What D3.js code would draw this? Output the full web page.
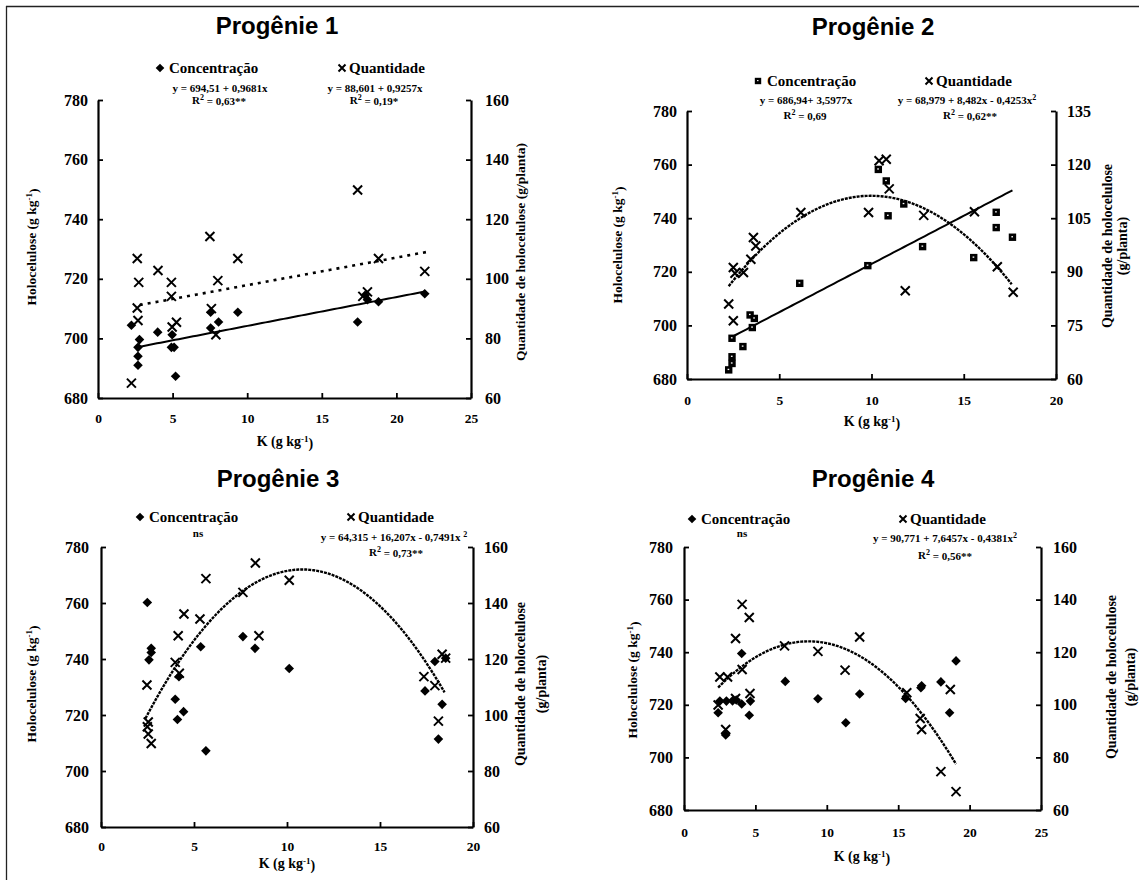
<!DOCTYPE html>
<html><head><meta charset="utf-8">
<script src="https://cdn.jsdelivr.net/npm/d3@7"></script>
<style>
body{margin:0;background:#fff}
svg{display:block}
</style></head>
<body><svg id="c" width="1139" height="880" style="font-family:'Liberation Serif','Times New Roman','DejaVu Serif',serif;font-weight:bold"></svg>
<script>
// ---------------- DATA ----------------
const xTicks25 = [0,5,10,15,20,25];
const xTicks20 = [0,5,10,15,20];
const yLeftTicks = [680,700,720,740,760,780];
const yRightTicks160 = [60,80,100,120,140,160];
const yRightTicks135 = [60,75,90,105,120,135];

// Progênie 1
const p1ConcK = [2.24,2.68,2.78,2.68,2.68,4.0,4.97,4.92,5.1,5.2,7.55,7.55,8.08,9.37,17.4,17.9,18.06,18.8,21.9];
const p1ConcY = [704.4,697,699.6,694,691,702.1,701.2,697,697,687.3,703.5,708.8,705.5,708.8,705.5,714.5,713,712.3,715];
const p1QtyK  = [2.24,2.63,2.73,2.63,2.68,4.02,4.92,4.92,4.97,5.26,7.5,7.6,8.03,7.9,9.37,17.4,18.06,17.75,18.8,21.9];
const p1QtyY  = [65,106.8,98.8,90.2,86,102.8,98.8,94.1,83.8,85.4,114.2,90,99.4,81.2,106.8,129.8,95.6,94.1,106.8,102.5];
const p1ConcFit = [694.51,0.9681,0], p1ConcFitRange = [2.5,21.9];
const p1QtyFit  = [88.601,0.9257,0], p1QtyFitRange  = [2.8,22];

// Progênie 2
const p2ConcK = [2.26,2.44,2.44,2.44,3.03,3.42,3.65,3.54,6.11,9.8,10.37,10.8,10.9,11.75,12.77,15.54,16.76,16.76,17.64];
const p2ConcY = [683.4,688.3,685.8,695.2,692.1,703.9,702.6,699.2,715.7,722.3,758.2,753.9,740.9,745.3,729.4,725.3,742.2,736.5,732.9];
const p2QtyK  = [2.26,2.51,2.51,2.6,3.06,3.46,3.6,3.73,6.17,9.84,10.41,10.8,10.96,11.83,12.83,15.58,16.82,17.68];
const p2QtyY  = [81,76.3,91.2,89.6,89.8,93.5,99.6,97.2,106.6,106.6,121.1,121.5,113.2,84.7,105.8,106.8,91.4,84.3];
const p2ConcFit = [686.94,3.5977,0], p2ConcFitRange = [2.47,17.64];
const p2QtyFit  = [68.979,8.482,-0.4253], p2QtyFitRange = [2.26,17.6];

// Progênie 3
const p3ConcK = [2.49,2.58,2.7,2.7,3.99,4.11,4.19,4.44,5.36,5.64,7.63,8.28,10.12,17.42,17.95,18.14,18.34,18.53];
const p3ConcY = [760.2,739.7,743.8,742.3,725.6,718.4,733.7,721.2,744.4,707.2,748,743.8,736.6,728.6,739.1,711.4,723.8,740.3];
const p3QtyK  = [2.47,2.49,2.54,2.54,2.7,3.99,4.15,4.21,4.46,5.32,5.64,7.63,8.3,8.49,10.12,17.36,17.95,18.14,18.34,18.53];
const p3QtyY  = [110.7,95.8,93.2,97.5,89.8,118.8,128.3,114.9,136.1,134.3,148.7,143.8,154.3,128.3,148.1,113.7,110.5,97.8,121.7,120.3];
const p3QtyFit = [64.315,16.207,-0.7491], p3QtyFitRange = [2.39,18.47];

// Progênie 4
const p4ConcK = [2.39,2.51,2.92,2.97,3.4,3.66,4.04,4.04,4.57,4.65,7.09,9.38,11.33,12.3,15.52,16.59,16.64,17.99,18.6,19.05];
const p4ConcY = [717,721.4,708.5,721.4,721.5,721.8,739.5,720.3,716,721.4,728.9,722.3,713.2,724.1,722.4,726.5,727.2,728.7,717,736.7];
const p4QtyK  = [2.39,2.51,2.92,3.05,3.61,3.61,4.07,4.07,4.57,4.62,7.04,9.38,11.28,12.3,15.6,16.54,16.64,17.99,18.65,19.05];
const p4QtyY  = [99.9,110.6,90.6,110.6,102.4,125.2,138.2,113.4,133.2,104.3,122.4,120.3,113.2,125.8,104.6,94.8,90.6,74.6,105.8,67];
const p4QtyFit = [90.771,7.6457,-0.4381], p4QtyFitRange = [2.39,19.05];

// ---------------- DRAW ----------------
const SERIF = "'Liberation Serif','Times New Roman','DejaVu Serif',serif";
const SANS = "'Liberation Sans',Arial,sans-serif";
const svg = d3.select("#c");

// frame
svg.append("line").attr("x1",6).attr("y1",6.5).attr("x2",1139).attr("y2",6.5).attr("stroke","#222").attr("stroke-width",1.3);
svg.append("line").attr("x1",6.5).attr("y1",6).attr("x2",6.5).attr("y2",880).attr("stroke","#222").attr("stroke-width",1.3);

function txt(g, fs){
  return g.append("text").style("font-family",SERIF).style("font-weight","bold").style("font-size",fs+"px").attr("fill","#000");
}

function rich(sel, parts, supSize){
  let prevSup = false;
  parts.forEach(p=>{
    const t = sel.append("tspan").text(p[0]);
    if(p[1] && !prevSup){ t.attr("dy","-0.45em").style("font-size",supSize+"px"); }
    else if(!p[1] && prevSup){ t.attr("dy","0.45em"); }
    else if(p[1]) t.style("font-size",supSize+"px");
    prevSup = p[1];
  });
}

function marker(g, type, x, y, s){
  if(type==="diamond"){
    g.append("path").attr("d",`M${x},${y-s}L${x+s},${y}L${x},${y+s}L${x-s},${y}Z`).attr("fill","#000");
  } else if(type==="cross"){
    g.append("path").attr("d",`M${x-s},${y-s}L${x+s},${y+s}M${x-s},${y+s}L${x+s},${y-s}`)
      .attr("stroke","#000").attr("stroke-width",2).attr("fill","none");
  } else if(type==="square"){
    g.append("rect").attr("x",x-s).attr("y",y-s).attr("width",2*s).attr("height",2*s).attr("fill","#000");
    g.append("rect").attr("x",x-s*0.3).attr("y",y-s*0.3).attr("width",s*0.45).attr("height",s*0.35).attr("fill","#fff");
  }
}

function styleAxisText(a, fs){
  a.attr("font-family",null).attr("font-size",null);
  a.selectAll("text").style("font-family",SERIF).style("font-weight","bold").style("font-size",fs+"px").attr("fill","#000");
}

function panel(c){
  const g = svg.append("g");
  const x = d3.scaleLinear().domain(c.xDom).range([c.x0,c.x1]);
  const yL = d3.scaleLinear().domain([680,780]).range([c.yB,c.yT]);
  const yR = d3.scaleLinear().domain(c.yRDom).range([c.yB,c.yT]);

  // title
  g.append("text").attr("x",c.title[1]).attr("y",c.title[2]).attr("text-anchor","middle")
    .style("font-family",SANS).style("font-weight","bold").style("font-size","24px").text(c.title[0]);

  // axes
  const ax = g.append("g").attr("transform",`translate(0,${c.yB})`)
    .call(d3.axisBottom(x).tickValues(c.xTicks).tickSizeInner(-5).tickSizeOuter(0));
  ax.selectAll("text").attr("dy",0).attr("y",c.xLabBase - c.yB);
  styleAxisText(ax, 13.5);
  const al = g.append("g").attr("transform",`translate(${c.x0},0)`)
    .call(d3.axisLeft(yL).tickValues(yLeftTicks).tickSizeInner(c.leftTick).tickSizeOuter(0).tickPadding(c.lPad));
  styleAxisText(al, 16);
  const ar = g.append("g").attr("transform",`translate(${c.x1},0)`)
    .call(d3.axisRight(yR).tickValues(c.yRTicks).tickSizeInner(-5).tickSizeOuter(0).tickPadding(c.rPad));
  styleAxisText(ar, 16);
  [ax,al,ar].forEach(a=>{
    a.select(".domain").attr("stroke","#000").attr("stroke-width",2.2);
    a.selectAll(".tick line").attr("stroke","#000").attr("stroke-width",1.8);
  });

  // trend lines
  const line = d3.line().x(d=>x(d[0])).y(d=>d[1]);
  function trend(coef, range, scale, dash, width){
    const n = 80, pts = [];
    for(let i=0;i<=n;i++){
      const k = range[0] + (range[1]-range[0])*i/n;
      pts.push([k, scale(coef[0]+coef[1]*k+coef[2]*k*k)]);
    }
    g.append("path").attr("d",line(pts)).attr("fill","none").attr("stroke","#000")
      .attr("stroke-width",width).attr("stroke-dasharray",dash);
  }
  c.trends.forEach(t=>trend(t.coef,t.range,t.axis==="L"?yL:yR,t.dash,t.width));

  // points
  c.conc.k.forEach((k,i)=>marker(g,c.concMarker,x(k),yL(c.conc.v[i]),c.concMarker==="square"?3.7:4.8));
  c.qty.k.forEach((k,i)=>marker(g,"cross",x(k),yR(c.qty.v[i]),4.5));

  // legend
  marker(g,c.concMarker,c.leg.cx,c.leg.y,c.concMarker==="square"?3.2:4.3);
  txt(g,15).attr("x",c.leg.cx+9).attr("y",c.leg.y+5).text("Concentração");
  marker(g,"cross",c.leg.qx,c.leg.y,3.5);
  txt(g,15).attr("x",c.leg.qx+7).attr("y",c.leg.y+5).text("Quantidade");

  // equations
  c.eqs.forEach(e=>{
    const t = txt(g,11).attr("x",e.x).attr("y",e.y).attr("text-anchor","middle");
    rich(t, e.parts, 8);
  });

  // axis titles
  const lt = txt(g,13.5).attr("transform",`translate(${c.lTitle[0]},${c.lTitle[1]}) rotate(-90)`)
    .attr("text-anchor","middle").attr("dy","0.35em");
  rich(lt, [["Holocelulose (g kg",false],["-1",true],[")",false]], 9);
  c.rTitle.forEach(r=>{
    txt(g,r.fs).attr("transform",`translate(${r.x},${r.y}) rotate(-90)`)
      .attr("text-anchor","middle").attr("dy","0.35em").text(r.t);
  });
  const xt = txt(g,14).attr("x",c.xTitle[0]).attr("y",c.xTitle[1]).attr("text-anchor","middle");
  rich(xt, [["K (g kg",false],["-1",true],[")",false]], 9);
}

const dotted = "3,1";

panel({
  title:["Progênie 1",277,34], xDom:[0,25], xTicks:xTicks25, x0:98, x1:471, yT:100, yB:398,
  yRDom:[60,160], yRTicks:yRightTicks160, leftTick:-5, lPad:10, rPad:14, xLabBase:423,
  conc:{k:p1ConcK,v:p1ConcY}, qty:{k:p1QtyK,v:p1QtyY}, concMarker:"diamond",
  trends:[{coef:p1ConcFit,range:p1ConcFitRange,axis:"L",dash:null,width:2},
          {coef:p1QtyFit,range:p1QtyFitRange,axis:"R",dash:"3,5",width:2.6}],
  leg:{cx:160,qx:342,y:68},
  eqs:[{x:220,y:92,parts:[["y = 694,51 + 0,9681x",false]]},
       {x:219,y:104,parts:[["R",false],["2",true],[" = 0,63**",false]]},
       {x:375,y:92,parts:[["y =  88,601 + 0,9257x",false]]},
       {x:374,y:104,parts:[["R",false],["2",true],[" = 0,19*",false]]}],
  lTitle:[31,247], rTitle:[{x:520,y:252,fs:13.5,t:"Quantidade de holocelulose (g/planta)"}],
  xTitle:[285,446]
});

panel({
  title:["Progênie 2",873,35], xDom:[0,20], xTicks:xTicks20, x0:687, x1:1056, yT:111, yB:379,
  yRDom:[60,135], yRTicks:yRightTicks135, leftTick:-5, lPad:10, rPad:11, xLabBase:405,
  conc:{k:p2ConcK,v:p2ConcY}, qty:{k:p2QtyK,v:p2QtyY}, concMarker:"square",
  trends:[{coef:p2ConcFit,range:p2ConcFitRange,axis:"L",dash:null,width:2},
          {coef:p2QtyFit,range:p2QtyFitRange,axis:"R",dash:dotted,width:2.4}],
  leg:{cx:758,qx:929,y:81},
  eqs:[{x:806,y:104,parts:[["y = 686,94+ 3,5977x",false]]},
       {x:805,y:119,parts:[["R",false],["2",true],[" = 0,69",false]]},
       {x:967,y:104,parts:[["y = 68,979 + 8,482x - 0,4253x",false],["2",true]]},
       {x:970,y:119,parts:[["R",false],["2",true],[" = 0,62**",false]]}],
  lTitle:[617,245], rTitle:[{x:1107,y:246,fs:14,t:"Quantidade de holocelulose"},{x:1122,y:246,fs:14,t:"(g/planta)"}],
  xTitle:[872,426]
});

panel({
  title:["Progênie 3",278,487], xDom:[0,20], xTicks:xTicks20, x0:101, x1:473, yT:547, yB:827,
  yRDom:[60,160], yRTicks:yRightTicks160, leftTick:-5, lPad:12, rPad:11, xLabBase:851,
  conc:{k:p3ConcK,v:p3ConcY}, qty:{k:p3QtyK,v:p3QtyY}, concMarker:"diamond",
  trends:[{coef:p3QtyFit,range:p3QtyFitRange,axis:"R",dash:dotted,width:2.4}],
  leg:{cx:140,qx:351,y:517},
  eqs:[{x:198,y:537,parts:[["ns",false]]},
       {x:394,y:541,parts:[["y = 64,315 + 16,207x - 0,7491x ",false],["2",true]]},
       {x:396,y:556,parts:[["R",false],["2",true],[" = 0,73**",false]]}],
  lTitle:[31,684], rTitle:[{x:520,y:684,fs:14,t:"Quantidade de holocelulose"},{x:541,y:684,fs:14,t:"(g/planta)"}],
  xTitle:[287,868]
});

panel({
  title:["Progênie 4",873,487], xDom:[0,25], xTicks:xTicks25, x0:684, x1:1041, yT:547, yB:810,
  yRDom:[60,160], yRTicks:yRightTicks160, leftTick:-5, lPad:11, rPad:12, xLabBase:837,
  conc:{k:p4ConcK,v:p4ConcY}, qty:{k:p4QtyK,v:p4QtyY}, concMarker:"diamond",
  trends:[{coef:p4QtyFit,range:p4QtyFitRange,axis:"R",dash:dotted,width:2.4}],
  leg:{cx:692,qx:903,y:519},
  eqs:[{x:742,y:537,parts:[["ns",false]]},
       {x:945,y:542,parts:[["y = 90,771 + 7,6457x - 0,4381x",false],["2",true]]},
       {x:945,y:559,parts:[["R",false],["2",true],[" = 0,56**",false]]}],
  lTitle:[632,680], rTitle:[{x:1111,y:677,fs:14,t:"Quantidade de holocelulose"},{x:1130,y:677,fs:14,t:"(g/planta)"}],
  xTitle:[862,861]
});
</script></body></html>
